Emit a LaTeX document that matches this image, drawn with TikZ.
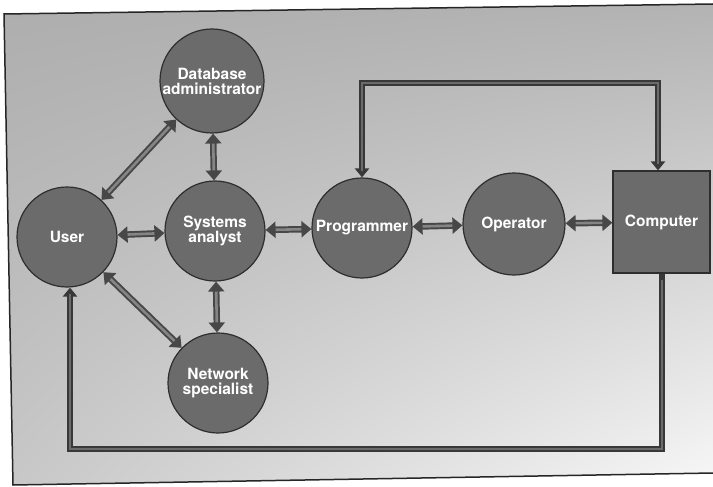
\documentclass[tikz,border=0pt]{standalone}
\usepackage{fontspec}
\setmainfont{TeX Gyre Heros}
\usetikzlibrary{arrows.meta,calc,shadings}
\tikzset{
  role/.style={circle, minimum size=#1, inner sep=0pt, fill=black!58, draw=black!82,
    line width=1.2pt, text=white, font=\bfseries\fontsize{15.5}{15}\selectfont,
    align=center},
  role/.default=100pt,
  machine/.style={rectangle, minimum width=97pt, minimum height=102pt, inner sep=0pt,
    fill=black!58, draw=black!82, line width=1.2pt, text=white,
    font=\bfseries\fontsize{15.5}{15}\selectfont},
  link/.style={line width=6.5pt, draw=black!72,
    {Triangle[length=10pt,width=16pt]}-{Triangle[length=10pt,width=16pt]},
    postaction={draw=black!48, line width=2.6pt, arrows=-, shorten <=10pt, shorten >=10pt}},
  route/.style={line width=5.5pt, draw=black!78, line join=miter,
    postaction={draw=black!58, line width=2pt, arrows=-, shorten <=6pt, shorten >=6pt}},
  rtip/.tip={Triangle[length=9pt,width=14pt]},
}
\begin{document}
\begin{tikzpicture}[x=1pt, y=-1pt]
  \useasboundingbox (0,0) rectangle (713,487);
  % paper
  \fill[white] (0,0) rectangle (713,487);
  % printed panel with its shaded ground
  \begin{scope}
    \clip (4,14) -- (713,4) -- (713,473) -- (13,485) -- cycle;
    \shade[upper left=black!32, upper right=black!30, lower left=black!22, lower right=black!3]
      (0,0) rectangle (713,487);
  \end{scope}
  \draw[line width=1.5pt, black!85] (713,4) -- (4,14) -- (13,485) -- (713,473);

  % roles
  \node[role=104pt] (db)   at (212,81)  {Database\\administrator};
  \node[role]       (user) at (67,237)  {User};
  \node[role]       (sa)   at (215,231) {Systems\\analyst};
  \node[role]       (net)  at (218,383) {Network\\specialist};
  \node[role]       (prog) at (362,228) {Programmer};
  \node[role=102pt] (op)   at (514,224) {Operator};
  \node[machine]    (comp) at (661.5,222) {Computer};

  % two-way links
  \draw[link] (user) -- (db);
  \draw[link] (db) -- (sa);
  \draw[link] (user) -- (sa);
  \draw[link] (sa) -- (prog);
  \draw[link] (prog) -- (op);
  \draw[link] (op) -- (comp);
  \draw[link] (sa) -- (net);
  \draw[link] (user) -- (net);

  % loop over the top: programmer and computer
  \coordinate (tl) at (362,83);
  \coordinate (tr) at (658,83);
  \draw[route, {rtip}-{rtip}] (prog.north) -- (tl) -- (tr) -- (tr |- comp.north);

  % loop along the bottom: computer back to the user
  \coordinate (br) at (662,449);
  \coordinate (bl) at (70,449);
  \draw[route, -{rtip}] (br |- comp.south) -- (br) -- (bl) -- (bl |- user.south);
\end{tikzpicture}
\end{document}
